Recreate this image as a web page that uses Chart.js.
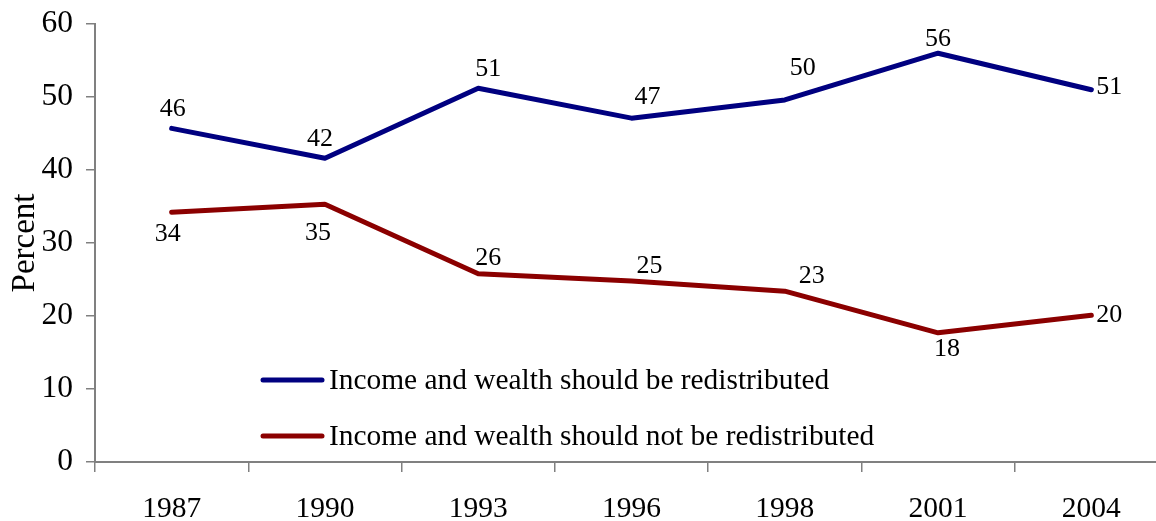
<!DOCTYPE html>
<html>
<head>
<meta charset="utf-8">
<title>Redistribution attitudes</title>
<script src="https://cdn.jsdelivr.net/npm/chart.js@4/dist/chart.umd.min.js"></script>
<style>
  html, body { margin: 0; padding: 0; background: #fff; overflow: hidden; }
  #wrap { width: 1180px; height: 521px; }
</style>
</head>
<body>
<div id="wrap"><canvas id="chart"></canvas></div>
<script>
// data
const years = ['1987', '1990', '1993', '1996', '1998', '2001', '2004'];
const redistributed = [45.7, 41.6, 51.2, 47.1, 49.6, 56.0, 51.0];
const notRedistributed = [34.2, 35.3, 25.8, 24.8, 23.4, 17.7, 20.1];
const yTicks = [0, 10, 20, 30, 40, 50, 60];
const seriesNames = [
  'Income and wealth should be redistributed',
  'Income and wealth should not be redistributed'
];

// where each value label sits relative to its point (dx, dy), like the hand-placed labels
const labelOffsetsBlue = [[1, -19], [-5, -19], [10, -19], [16, -21], [18, -32], [0, -14], [18, -3]];
const labelOffsetsRed = [[-4, 22], [-7, 29], [10, -15], [18, -15], [27, -15], [9, 16], [18, 0]];

const FONT = "'Liberation Serif', 'Times New Roman', serif";

const valueLabels = {
  id: 'valueLabels',
  afterDatasetsDraw(chart) {
    const ctx = chart.ctx;
    ctx.save();
    ctx.font = '26px ' + FONT;
    ctx.fillStyle = '#000';
    ctx.textAlign = 'center';
    ctx.textBaseline = 'middle';
    chart.data.datasets.forEach((ds, i) => {
      const meta = chart.getDatasetMeta(i);
      const offs = ds.labelOffsets;
      meta.data.forEach((pt, j) => {
        const o = offs[j];
        ctx.fillText(String(Math.round(ds.data[j])), pt.x + o[0], pt.y + o[1]);
      });
    });
    ctx.restore();
  }
};

// legend drawn inside the plot, lower left
const insideLegend = {
  id: 'insideLegend',
  afterDraw(chart) {
    const ctx = chart.ctx;
    const a = chart.chartArea;
    ctx.save();
    ctx.font = '29.4px ' + FONT;
    ctx.textBaseline = 'middle';
    ctx.textAlign = 'left';
    chart.data.datasets.forEach((ds, i) => {
      const y = a.bottom - 82 + i * 56;
      const x0 = a.left + 168;
      ctx.strokeStyle = ds.borderColor;
      ctx.lineWidth = 5;
      ctx.lineCap = 'round';
      ctx.beginPath();
      ctx.moveTo(x0, y);
      ctx.lineTo(x0 + 59, y);
      ctx.stroke();
      ctx.fillStyle = '#000';
      ctx.fillText(ds.label, x0 + 66, y + 1);
    });
    ctx.restore();
  }
};

const lineStyle = {
  borderWidth: 5,
  pointRadius: 0,
  pointHoverRadius: 0,
  tension: 0,
  borderCapStyle: 'round',
  borderJoinStyle: 'round',
  fill: false
};

new Chart(document.getElementById('chart'), {
  type: 'line',
  data: {
    labels: years,
    datasets: [
      Object.assign({
        label: seriesNames[0],
        data: redistributed,
        borderColor: '#000080',
        backgroundColor: '#000080',
        labelOffsets: labelOffsetsBlue
      }, lineStyle),
      Object.assign({
        label: seriesNames[1],
        data: notRedistributed,
        borderColor: '#8b0000',
        backgroundColor: '#8b0000',
        labelOffsets: labelOffsetsRed
      }, lineStyle)
    ]
  },
  options: {
    responsive: true,
    maintainAspectRatio: false,
    animation: false,
    layout: { padding: { top: 24, right: 12, left: 0, bottom: 0 } },
    plugins: {
      legend: { display: false },
      tooltip: { enabled: false }
    },
    scales: {
      x: {
        offset: true,
        grid: {
          offset: true,
          drawOnChartArea: false,
          drawTicks: true,
          tickLength: 10,
          color: '#808080',
          lineWidth: 1.5
        },
        border: { display: true, color: '#808080', width: 2 },
        ticks: {
          color: '#000',
          font: { family: FONT, size: 29.5 },
          padding: 20,
          maxRotation: 0,
          autoSkip: false
        },
        afterFit(scale) {
          scale.height = 59;
          scale.paddingLeft = 0;
          scale.paddingRight = 0;
        }
      },
      y: {
        min: 0,
        max: 60,
        afterBuildTicks(scale) {
          scale.ticks = yTicks.map(v => ({ value: v }));
        },
        grid: {
          drawOnChartArea: false,
          drawTicks: true,
          tickLength: 9,
          color: '#808080',
          lineWidth: 1.5
        },
        border: { display: true, color: '#808080', width: 2 },
        ticks: {
          color: '#000',
          font: { family: FONT, size: 31.5 },
          padding: 13
        },
        title: {
          display: true,
          text: 'Percent',
          color: '#000',
          font: { family: FONT, size: 33 },
          padding: { top: 6, bottom: 0 }
        },
        afterFit(scale) {
          scale.width = 95;
          scale.paddingTop = 0;
          scale.paddingBottom = 0;
        }
      }
    }
  },
  plugins: [valueLabels, insideLegend]
});
</script>
</body>
</html>
